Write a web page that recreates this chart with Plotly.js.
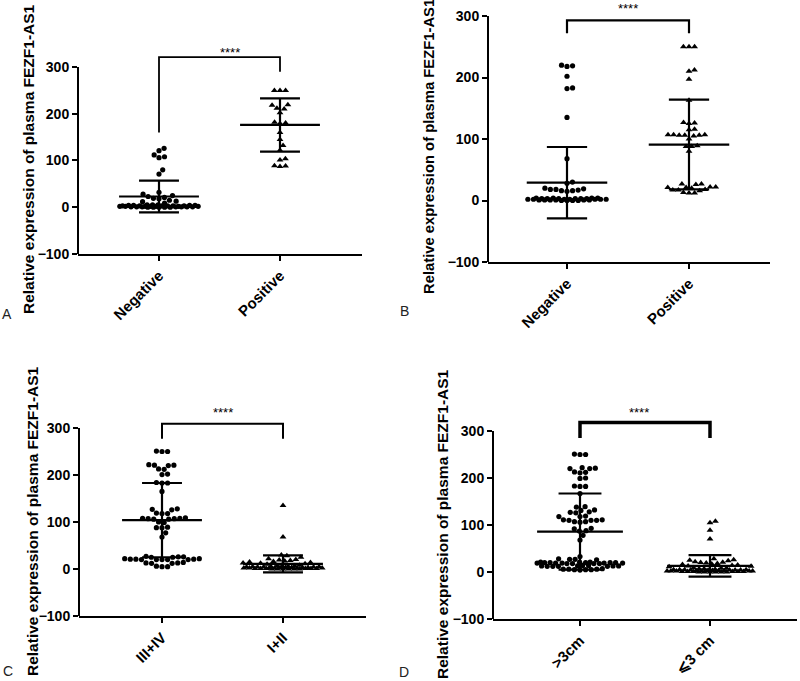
<!DOCTYPE html>
<html><head><meta charset="utf-8">
<script src="https://cdn.plot.ly/plotly-3.0.1.min.js"></script>
<style>html,body{margin:0;padding:0;background:#fff}</style>
</head><body><div id="chart" style="width:800px;height:681px"></div>
<script>
// ---------------- data ----------------
const yTitle = "Relative expression of plasma FEZF1-AS1";
const panelLetters = ["A", "B", "C", "D"];
const yTickVals = [-100, 0, 100, 200, 300];

const catsA = ["Negative", "Positive"];
const catsB = ["Negative", "Positive"];
const catsC = ["III+IV", "I+II"];
const catsD = [">3cm", "⩽3 cm"];

const aNegative = [126,121,112,108,106, 80,71, 32,28, 25,23,21,19,18, 15,13,12,9,
  5,5,5,4,4,4,4,3,3,3,3,3,3,2,2,2,2,2,2,2,1,1,1,1,1,1,1,0,0,0,0,0];
const aPositive = [250,250,250, 219,218, 212,210, 202, 182,180,179, 160, 145, 132, 122, 104,101, 89,88,87];

const bNegative = [220,219,218, 202, 183,182, 135, 68, 30,28, 20,19,18,18,17,16,16,15,
  4,4,4,4,3,3,3,3,3,3,2,2,2,2,2,2,2,1,1,1,1,1,1,0,0,0,0];
const bPositive = [250,250,250, 212,210, 197, 163, 127,126,125, 116,115, 107,107,107,106,106,106,105, 100,
  89,88,88, 80, 27,27,26, 22,22,21,21,20, 18,17,17,16, 13,12,12];

const cStage34 = [251,250,250, 222,221,221,220, 213,212, 202,201, 184,183,183, 165, 128,127,126, 119,118,118,
  109,108,108,107,107,106,106, 100,99, 89,88,88, 77, 68, 27,26,26,25,25, 22,22,21,21,21,20,20,20,20,20,
  14,13,13,12,12, 6,5,5];
const cStage12 = [135, 68, 30,28,25,22,20,19,18,17,16,15,14,13,12,11,10,
  8,7,7,6,6,5,5,5,4,4,4,4,3,3,3,3,3,2,2,2,2,2,2,1,1,1,1,1,1,0,0,0,0,0,0];

const dOver3 = [251,250,250, 222,221,220,220, 213,212,211, 200,199, 183,182,182, 167, 139,138, 132,131,
  128,127,126, 119,118,118, 111,111,110,110,110, 107,107,106, 93,92, 88,87, 78, 68, 33, 28,27,27,26,
  21,21,21,20,20,20,20,20,19,19,19,19,19,18,18,18,18, 14,14,13,13,13,13,12,12,12,12, 7,6,6,6,5,5,5,4];
const dUnder3 = [108,105, 89, 70, 28,26,25,24,22,21,20,19,18,17,16,15,14,13,12,11,
  9,8,8,7,7,6,6,5,5,5,5,4,4,4,4,3,3,3,3,3,2,2,2,2,2,2,1,1,1,1,1,1,0,0,0,0,0,0];

// mean and SD of each group as drawn in the reference
const aMeans = [23, 176], aSDs = [34, 57];
const bMeans = [29, 91],  bSDs = [58, 73];
const cMeans = [104, 11], cSDs = [79, 18];
const dMeans = [86, 13],  dSDs = [81, 23];

// significance brackets: [left leg end, top, right leg end]
const aBracket = [160, 321, 290];
const bBracket = [272, 293, 272];
const cBracket = [277, 309, 277];
const dBracket = [285, 318, 285];
const sigLabel = "****";
// position of the significance label: [x in category units, value]
const aSig = [0.59, 338], bSig = [0.5, 317], cSig = [0.5, 340], dSig = [0.45, 346];

// ---------------- layout geometry (pixels) ----------------
const W = 800, H = 681;
const geom = [
  {xL: 78,  xR: 362, c0: 159, c1: 280, yLow: 254, yHigh: 67,  top: 335, brW: 1.8},
  {xL: 488, xR: 770, c0: 567, c1: 689, yLow: 262, yHigh: 16,  top: 302, brW: 2.2},
  {xL: 79,  xR: 366, c0: 162, c1: 283, yLow: 616, yHigh: 428, top: 335, brW: 2.0},
  {xL: 493, xR: 797, c0: 580, c1: 710, yLow: 619, yHigh: 431, top: 335, brW: 3.5}
];
const titlePos = [[28,159, 15.5],[429,147, 14.8],[32,521, 15.5],[442,524, 15.5]];
const letterPos = [[7,314],[404,311],[8,671],[404,672]];

const panels = [
  {cats: catsA, groups: [aNegative, aPositive], means: aMeans, sds: aSDs, bracket: aBracket, sig: aSig},
  {cats: catsB, groups: [bNegative, bPositive], means: bMeans, sds: bSDs, bracket: bBracket, sig: bSig},
  {cats: catsC, groups: [cStage34, cStage12],  means: cMeans, sds: cSDs, bracket: cBracket, sig: cSig},
  {cats: catsD, groups: [dOver3, dUnder3],     means: dMeans, sds: dSDs, bracket: dBracket, sig: dSig}
];
const symbols = ["circle", "triangle-up"];
const FONT = "Liberation Sans, Arial, sans-serif";

// deterministic beeswarm (pixel space), returns offsets in category units
function swarm(vals, pxY, pxCat, s, maxHalf) {
  const order = vals.map((v, i) => i).sort((a, b) => vals[a] - vals[b]);
  const placed = [], out = new Array(vals.length);
  for (const i of order) {
    const y = vals[i] * pxY;
    const ints = [];
    for (const p of placed) {
      const dy = Math.abs(p.y - y);
      if (dy < s) { const w = Math.sqrt(s * s - dy * dy); ints.push([p.x - w, p.x + w]); }
    }
    const cands = [0];
    ints.forEach(t => cands.push(t[1], t[0]));
    cands.sort((a, b) => Math.abs(a) - Math.abs(b));
    let best = null;
    for (const c of cands) {
      if (Math.abs(c) > maxHalf + 1e-9) continue;
      if (ints.every(t => c <= t[0] + 1e-9 || c >= t[1] - 1e-9)) { best = c; break; }
    }
    if (best === null) {
      let bd = -1; best = 0;
      for (let c = -maxHalf; c <= maxHalf + 1e-9; c += 0.5) {
        let md = Infinity;
        for (const p of placed) { const d = Math.hypot(p.x - c, p.y - y); if (d < md) md = d; }
        if (md > bd + 1e-9) { bd = md; best = c; }
      }
    }
    placed.push({x: best, y: y});
    out[i] = best / pxCat;
  }
  return out;
}

const traces = [], shapes = [], annotations = [];
const layout = {
  width: W, height: H, margin: {l: 0, r: 0, t: 0, b: 0},
  paper_bgcolor: "#fff", plot_bgcolor: "#fff", showlegend: false,
  font: {family: FONT, color: "#000"}
};

panels.forEach((p, k) => {
  const g = geom[k];
  const sfx = k === 0 ? "" : String(k + 1);
  const xa = "x" + sfx, ya = "y" + sfx;
  const pxCat = g.c1 - g.c0;
  const pxY = (g.yLow - g.yHigh) / 400;
  const xr = [(g.xL - g.c0) / pxCat, 1 + (g.xR - g.c1) / pxCat];
  const yTopPx = g.yHigh - (g.top - 300) * pxY;
  layout["xaxis" + sfx] = {
    domain: [g.xL / W, g.xR / W], range: xr, anchor: ya,
    tickvals: [0, 1], ticktext: p.cats, tickangle: -45,
    ticks: "outside", ticklen: 5, tickwidth: 2, tickcolor: "#000",
    showline: true, linewidth: 2, linecolor: "#000",
    showgrid: false, zeroline: false,
    tickfont: {family: FONT, size: 15, weight: 700, color: "#000"}
  };
  layout["yaxis" + sfx] = {
    domain: [1 - g.yLow / H, 1 - yTopPx / H], range: [-100, g.top], anchor: xa,
    tickvals: yTickVals, ticks: "outside", ticklen: 5, tickwidth: 2, tickcolor: "#000",
    showline: false, showgrid: false, zeroline: false,
    tickfont: {family: FONT, size: 14, weight: 700, color: "#000"}
  };
  // y axis line only from -100 to 300
  shapes.push({type: "line", xref: xa + " domain", yref: ya, x0: 0, x1: 0, y0: -100, y1: 300,
    line: {color: "#000", width: 2}});

  p.groups.forEach((vals, gi) => {
    const off = swarm(vals, pxY, pxCat, 5.6, 0.33 * pxCat);
    traces.push({
      type: "scatter", mode: "markers", xaxis: xa, yaxis: ya, hoverinfo: "y",
      x: vals.map((v, i) => gi + off[i]), y: vals,
      marker: {symbol: symbols[gi], size: gi === 0 ? 5.2 : 6, color: "#000", line: {width: 0}},
      cliponaxis: false
    });
  });
  p.groups.forEach((vals, gi) => {
    const m = p.means[gi], s = p.sds[gi];
    traces.push({
      type: "scatter", mode: "lines", xaxis: xa, yaxis: ya, hoverinfo: "skip",
      x: [gi - 0.33, gi + 0.33, null, gi - 0.165, gi + 0.165, null, gi - 0.165, gi + 0.165, null, gi, gi],
      y: [m, m, null, m + s, m + s, null, m - s, m - s, null, m - s, m + s],
      line: {color: "#000", width: 2.2}
    });
  });
  traces.push({
    type: "scatter", mode: "lines", xaxis: xa, yaxis: ya, hoverinfo: "skip",
    x: [0, 0, 1, 1], y: [p.bracket[0], p.bracket[1], p.bracket[1], p.bracket[2]],
    line: {color: "#000", width: g.brW}
  });
  // significance label (placed in paper space so that it may sit above the axis range)
  const sigPx = g.yHigh - (p.sig[1] - 300) * pxY;
  annotations.push({xref: xa, yref: "paper", x: p.sig[0], y: 1 - sigPx / H, text: sigLabel, showarrow: false,
    font: {family: FONT, size: 13, color: "#000"}, xanchor: "center", yanchor: "middle", yshift: -3});
  annotations.push({xref: "paper", yref: "paper", x: titlePos[k][0] / W, y: 1 - titlePos[k][1] / H,
    text: yTitle, textangle: -90, showarrow: false, xanchor: "center", yanchor: "middle",
    font: {family: FONT, size: titlePos[k][2], weight: 700, color: "#000"}});
  annotations.push({xref: "paper", yref: "paper", x: letterPos[k][0] / W, y: 1 - letterPos[k][1] / H,
    text: panelLetters[k], showarrow: false, xanchor: "center", yanchor: "middle",
    font: {family: FONT, size: 14, color: "#222"}});
});
layout.shapes = shapes;
layout.annotations = annotations;

Plotly.newPlot("chart", traces, layout, {staticPlot: true, displayModeBar: false});
</script>
</body></html>
